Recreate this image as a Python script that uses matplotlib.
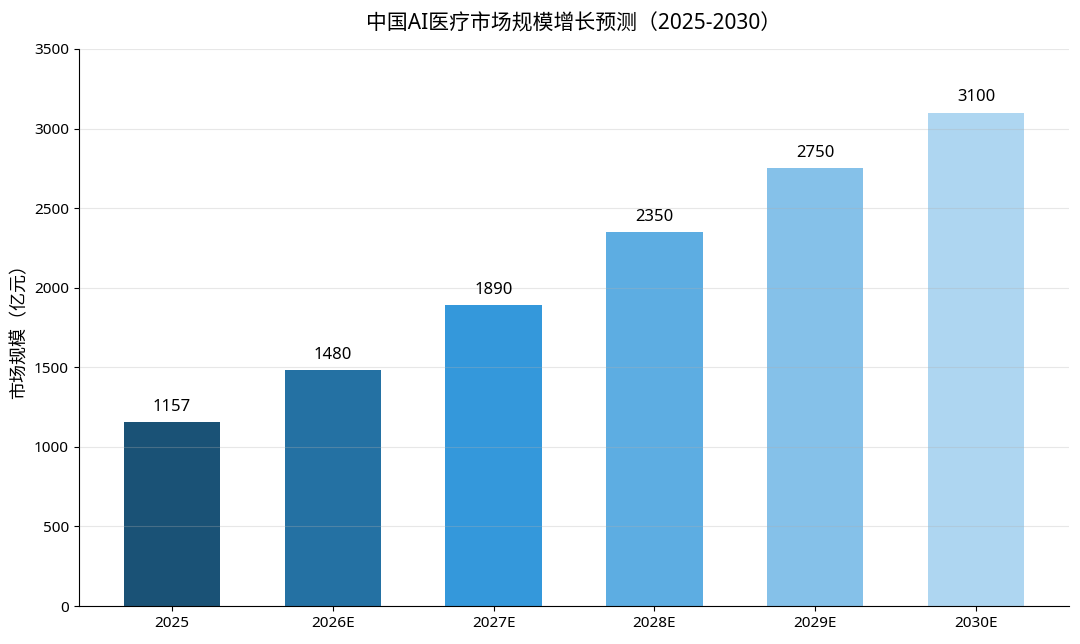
import matplotlib
matplotlib.use("Agg")
import matplotlib.pyplot as plt

plt.rcParams['font.family'] = ['Noto Sans', 'Noto Sans CJK SC', 'DejaVu Sans']

years = ['2025', '2026E', '2027E', '2028E', '2029E', '2030E']
values = [1157, 1480, 1890, 2350, 2750, 3100]
colors = ['#1a5276', '#2471a3', '#3498db', '#5dade2', '#85c1e9', '#aed6f1']

fig, ax = plt.subplots(figsize=(10.8, 6.44), dpi=100)
fig.subplots_adjust(left=0.073, right=0.99, top=0.924, bottom=0.059)

bars = ax.bar(years, values, width=0.6, color=colors, zorder=1)
for b, v in zip(bars, values):
    ax.text(b.get_x() + b.get_width() / 2, v + 45, str(v), ha='center', va='bottom', fontsize=12, zorder=3)

ax.set_ylim(0, 3500)
ax.set_yticks(range(0, 3501, 500))
ax.grid(axis='y', color='#b0b0b0', alpha=0.3, linewidth=0.8, zorder=2)
ax.set_axisbelow(False)
ax.spines['top'].set_visible(False)
ax.spines['right'].set_visible(False)
ax.tick_params(labelsize=11)
ax.set_ylabel('市场规模（亿元）', fontsize=13)
ax.set_title('中国AI医疗市场规模增长预测（2025-2030）', fontsize=15, pad=14)

fig.savefig('out.png', dpi=100)
